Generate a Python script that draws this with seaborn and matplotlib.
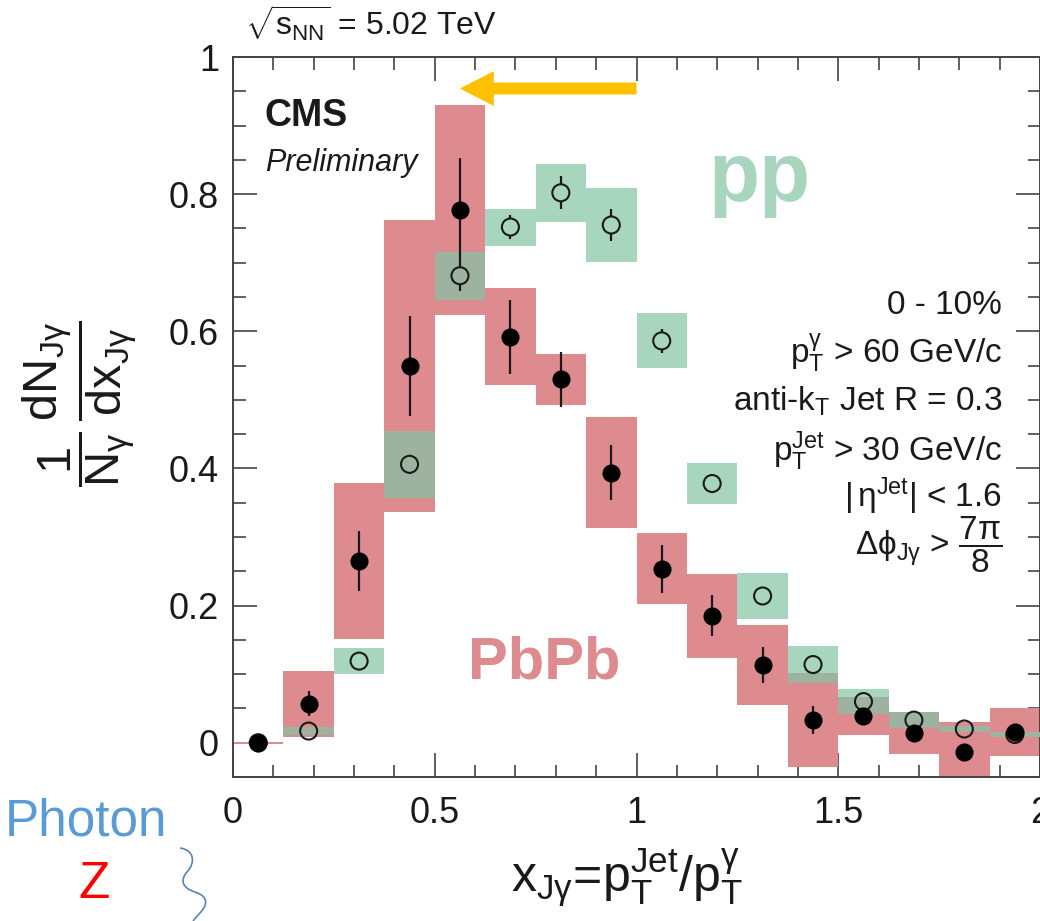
import numpy as np
import pandas as pd
import matplotlib
matplotlib.use("Agg")
import matplotlib.pyplot as plt
import seaborn as sns
from matplotlib.patches import FancyArrowPatch, PathPatch, ArrowStyle
from matplotlib.path import Path
from matplotlib.ticker import MultipleLocator, FuncFormatter, FixedLocator

# ---- data: x_Jgamma distributions, 0-10% PbPb vs pp ----
bin_edges = [0.0, 0.125, 0.25, 0.375, 0.5, 0.625, 0.75, 0.875, 1.0,
             1.125, 1.25, 1.375, 1.5, 1.625, 1.75, 1.875, 2.0]

pbpb_y    = [0.000, 0.057, 0.265, 0.549, 0.777, 0.592, 0.530, 0.394,
             0.254, 0.185, 0.113, 0.033, 0.039, 0.014, -0.014, 0.016]
pbpb_stat = [0.000, 0.018, 0.044, 0.073, 0.075, 0.054, 0.040, 0.040,
             0.035, 0.030, 0.026, 0.020, 0.012, 0.010, 0.008, 0.008]
pbpb_sys  = [0.0015, 0.048, 0.114, 0.213, 0.153, 0.071, 0.037, 0.081,
             0.052, 0.061, 0.058, 0.068, 0.028, 0.031, 0.044, 0.035]

pp_y    = [0.000, 0.017, 0.119, 0.406, 0.681, 0.752, 0.802, 0.755,
           0.586, 0.378, 0.214, 0.114, 0.060, 0.033, 0.020, 0.012]
pp_stat = [0.000, 0.004, 0.006, 0.014, 0.022, 0.018, 0.024, 0.024,
           0.018, 0.013, 0.008, 0.006, 0.005, 0.004, 0.003, 0.003]
pp_sys  = [0.000, 0.006, 0.019, 0.049, 0.035, 0.027, 0.042, 0.054,
           0.040, 0.030, 0.033, 0.027, 0.018, 0.012, 0.005, 0.004]

x_ticks = [0, 0.5, 1, 1.5, 2]
y_ticks = [0, 0.2, 0.4, 0.6, 0.8, 1]

PINK = "#DE8B8F"
GREEN = "#A8D5BE"
OVERLAP = "#9DB39F"
INK = "#1a1a1a"

sns.set_theme(style="ticks")
plt.rcParams["font.family"] = ["Liberation Sans", "DejaVu Sans"]
plt.rcParams.update({
    "mathtext.fontset": "custom",
    "mathtext.rm": "Liberation Sans",
    "mathtext.it": "Liberation Sans:italic",
    "mathtext.bf": "Liberation Sans:bold",
    "mathtext.sf": "Liberation Sans",
    "mathtext.default": "regular",
})

edges = np.array(bin_edges)
centers = 0.5 * (edges[:-1] + edges[1:])
widths = np.diff(edges)

df = pd.DataFrame({
    "x": centers,
    "pbpb": pbpb_y, "pbpb_stat": pbpb_stat, "pbpb_sys": pbpb_sys,
    "pp": pp_y, "pp_stat": pp_stat, "pp_sys": pp_sys,
})

W, H = 1040, 921
fig = plt.figure(figsize=(W / 100, H / 100), dpi=100)
ax = fig.add_axes([233 / W, 144 / H, 807 / W, 720 / H])
ax.set_xlim(0, 2)
ax.set_ylim(-0.05, 1.0)

# systematic boxes
p_lo = df.pbpb - df.pbpb_sys
p_hi = df.pbpb + df.pbpb_sys
g_lo = df.pp - df.pp_sys
g_hi = df.pp + df.pp_sys
ax.bar(df.x, p_hi - p_lo, bottom=p_lo, width=widths, color=PINK, linewidth=0, zorder=1)
ax.bar(df.x, g_hi - g_lo, bottom=g_lo, width=widths, color=GREEN, linewidth=0, zorder=2)
o_lo = np.maximum(p_lo, g_lo)
o_hi = np.minimum(p_hi, g_hi)
ov = (o_hi - o_lo) > 0
ax.bar(df.x[ov], (o_hi - o_lo)[ov], bottom=o_lo[ov], width=widths[ov],
       color=OVERLAP, linewidth=0, zorder=3)

# statistical error bars (pp bars stop at the open marker's rim)
ax.errorbar(df.x, df.pbpb, yerr=df.pbpb_stat, fmt="none", ecolor=INK,
            elinewidth=1.6, zorder=4)
rim = 0.0115
has_bar = df.pp_stat > rim
ax.vlines(df.x[has_bar], (df.pp + rim)[has_bar], (df.pp + df.pp_stat)[has_bar],
          color=INK, linewidth=1.6, zorder=4)
ax.vlines(df.x[has_bar], (df.pp - df.pp_stat)[has_bar], (df.pp - rim)[has_bar],
          color=INK, linewidth=1.6, zorder=4)

# markers
sns.scatterplot(data=df, x="x", y="pp", ax=ax, marker="o", s=150,
                facecolor="none", edgecolor=INK, linewidth=1.5, zorder=5)
sns.scatterplot(data=df, x="x", y="pbpb", ax=ax, marker="o", s=170,
                color="black", edgecolor="black", linewidth=0, zorder=6)

fmt = FuncFormatter(lambda v, _: f"{v:g}")
ax.xaxis.set_major_locator(FixedLocator(x_ticks))
ax.yaxis.set_major_locator(FixedLocator(y_ticks))
ax.xaxis.set_minor_locator(MultipleLocator(0.1))
ax.yaxis.set_minor_locator(MultipleLocator(0.05))
ax.xaxis.set_major_formatter(fmt)
ax.yaxis.set_major_formatter(fmt)
ax.tick_params(which="both", direction="in", top=True, right=True,
               color="#444444", width=1.2, labelsize=26, labelcolor=INK)
ax.tick_params(which="major", length=17)
ax.tick_params(which="minor", length=9)
ax.tick_params(axis="x", which="major", pad=14)
ax.tick_params(axis="y", which="major", pad=10)
for sp in ax.spines.values():
    sp.set_color("#444444")
    sp.set_linewidth(1.4)
ax.set_xlabel("")
ax.set_ylabel("")

# axis titles
fig.text(627 / W, 1 - 878 / H,
         r"$x_{J\gamma}$=$p_{T}^{Jet}$/$p_{T}^{\gamma}$",
         ha="center", va="center", fontsize=36, color=INK)
fig.text(80 / W, 1 - 404 / H,
         r"$\dfrac{1}{N_{\gamma}}\,\dfrac{dN_{J\gamma}}{dx_{J\gamma}}$",
         ha="center", va="center", rotation=90, fontsize=35, color=INK)

# collision energy
ax.text(0.03, 1.031, r"$\sqrt{s_{NN}}$ = 5.02 TeV", fontsize=23,
        color=INK, va="baseline", clip_on=False)

ax.text(0.079, 0.899, "CMS", fontsize=27, fontweight="bold", color=INK, va="baseline")
ax.text(0.079, 0.834, "Preliminary", fontsize=22, style="italic", color=INK, va="baseline")

ax.text(1.305, 0.790, "pp", fontsize=60, fontweight="bold", color=GREEN,
        ha="center", va="baseline")
ax.text(0.772, 0.093, "PbPb", fontsize=43, fontweight="bold", color=PINK,
        ha="center", va="baseline")

# selection summary
sel_lines = [
    ("0 - 10%", 0.625),
    (r"$p_{T}^{\gamma}$ > 60 GeV/c", 0.554),
    (r"anti-$k_{T}$ Jet R = 0.3", 0.484),
    (r"$p_{T}^{Jet}$ > 30 GeV/c", 0.411),
    (r"$|\,\eta^{Jet}|$ < 1.6", 0.343),
]
for txt, yv in sel_lines:
    ax.text(1.906, yv, txt, fontsize=24, color=INK, ha="right", va="baseline")
ax.text(1.906, 0.289, r"$\Delta\phi_{J\gamma}$ > $\dfrac{7\pi}{8}$",
        fontsize=24, color=INK, ha="right", va="center")

# arrow showing the shift of the PbPb distribution
arrow = FancyArrowPatch(
    (1.0, 0.954), (0.562, 0.954),
    arrowstyle=ArrowStyle.Simple(head_length=2.45, head_width=2.5, tail_width=0.86),
    mutation_scale=10, color="#FFC000", linewidth=0,
    shrinkA=0, shrinkB=0, zorder=7, clip_on=False)
ax.add_patch(arrow)

# boson labels in the lower-left corner
fig.text(5 / W, 1 - 835 / H, "Photon", fontsize=37, color="#5B9BD5",
         ha="left", va="baseline")
fig.text(94 / W, 1 - 898 / H, "Z", fontsize=37, color="#FF0000",
         ha="center", va="baseline")

def fpx(x, y):
    return (x / W, 1 - y / H)

squiggle = Path(
    [fpx(180, 848), fpx(194, 850), fpx(196, 862), fpx(187, 872),
     fpx(180, 880), fpx(182, 888), fpx(195, 892),
     fpx(210, 897), fpx(207, 906), fpx(199, 914),
     fpx(193, 921)],
    [Path.MOVETO, Path.CURVE4, Path.CURVE4, Path.CURVE4,
     Path.CURVE4, Path.CURVE4, Path.CURVE4,
     Path.CURVE4, Path.CURVE4, Path.CURVE4,
     Path.LINETO])
fig.add_artist(PathPatch(squiggle, transform=fig.transFigure, facecolor="none",
                         edgecolor="#5A83B5", linewidth=1.2))

fig.savefig("out.png", dpi=100)
